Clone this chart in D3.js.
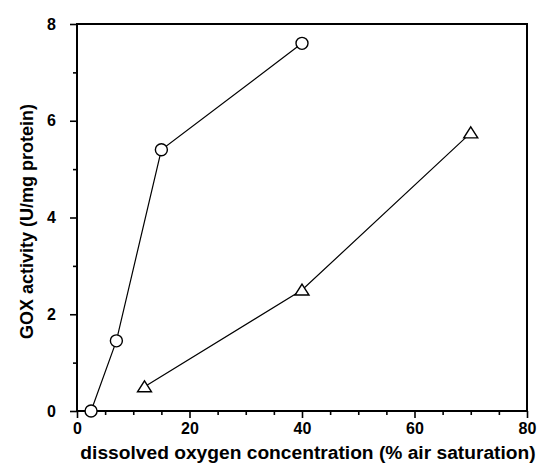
<!DOCTYPE html>
<html><head><meta charset="utf-8">
<script src="https://cdn.jsdelivr.net/npm/d3@7"></script>
<style>
html,body{margin:0;padding:0;background:#fff;}
svg{display:block;font-family:"Liberation Sans",Arial,sans-serif;}
</style></head>
<body><svg id="c" width="538" height="464"></svg>
<script>
// data
const circleX = [2.5, 7, 15, 40];
const circleY = [0, 1.45, 5.4, 7.6];
const triangleX = [12, 40, 70];
const triangleY = [0.5, 2.5, 5.75];
const xTicks = [0, 20, 40, 60, 80];
const yTicks = [0, 2, 4, 6, 8];
const xLabel = "dissolved oxygen concentration (% air saturation)";
const yLabel = "GOX activity (U/mg protein)";

const svg = d3.select("#c");
const L = 77, R = 527, T = 24, B = 411;
const x = d3.scaleLinear().domain([0, 80]).range([L, R]);
const y = d3.scaleLinear().domain([0, 8]).range([B, T]);

// minor ticks
const xMinor = d3.range(0, 81, 5).filter(v => v % 20 !== 0);
const yMinor = d3.range(1, 8, 2);

const gx = svg.append("g").attr("transform", `translate(0,${B})`);
gx.call(d3.axisBottom(x).tickValues(xTicks).tickSize(7).tickPadding(5).tickFormat(d3.format("d")));
gx.append("g").call(d3.axisBottom(x).tickValues(xMinor).tickSize(4).tickFormat(""));
const gy = svg.append("g").attr("transform", `translate(${L},0)`);
gy.call(d3.axisLeft(y).tickValues(yTicks).tickSize(7).tickPadding(14).tickFormat(d3.format("d")));
gy.append("g").call(d3.axisLeft(y).tickValues(yMinor).tickSize(4).tickFormat(""));

svg.selectAll(".domain").remove();
svg.selectAll(".tick line").attr("stroke", "#000").attr("stroke-width", 1.6);
svg.selectAll(".tick text").attr("fill", "#000").style("font-size", "16px").style("font-weight", "bold");

// frame
svg.append("rect").attr("x", L).attr("y", T).attr("width", R - L).attr("height", B - T)
  .attr("fill", "none").attr("stroke", "#000").attr("stroke-width", 2);

// lines
const line = d3.line().x(d => x(d[0])).y(d => y(d[1]));
const cData = circleX.map((v, i) => [v, circleY[i]]);
const tData = triangleX.map((v, i) => [v, triangleY[i]]);
svg.append("path").attr("d", line(cData)).attr("fill", "none").attr("stroke", "#000").attr("stroke-width", 1.2);
svg.append("path").attr("d", line(tData)).attr("fill", "none").attr("stroke", "#000").attr("stroke-width", 1.2);

svg.selectAll(".circ").data(cData).join("circle")
  .attr("cx", d => x(d[0])).attr("cy", d => y(d[1])).attr("r", 6)
  .attr("fill", "#fff").attr("stroke", "#000").attr("stroke-width", 1.4);
svg.selectAll(".tri").data(tData).join("path")
  .attr("d", d => { const cx = x(d[0]), cy = y(d[1]); return `M${cx},${cy-6}L${cx+7},${cy+5}L${cx-7},${cy+5}Z`; })
  .attr("fill", "#fff").attr("stroke", "#000").attr("stroke-width", 1.4);

// titles
svg.append("text").attr("x", 308).attr("y", 459).attr("text-anchor", "middle")
  .style("font-size", "19.2px").style("font-weight", "bold").text(xLabel);
svg.append("text").attr("transform", `translate(33,${(T + B) / 2 + 4}) rotate(-90)`).attr("text-anchor", "middle")
  .style("font-size", "18px").style("font-weight", "bold").text(yLabel);
</script></body></html>
